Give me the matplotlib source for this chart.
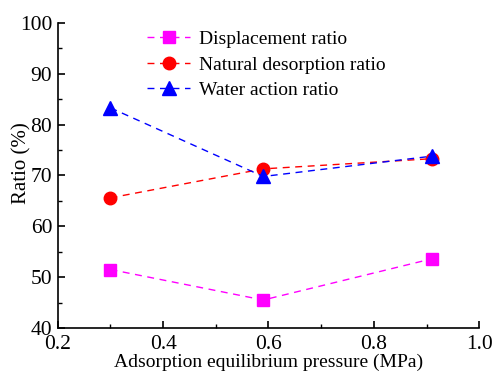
import matplotlib
matplotlib.use("Agg")
import matplotlib.pyplot as plt
from matplotlib.ticker import MultipleLocator, FormatStrFormatter

pressure = [0.30, 0.59, 0.91]
displacement = [51.5, 45.5, 53.6]
natural = [65.6, 71.3, 73.3]
water = [83.3, 69.8, 73.8]

plt.rcParams['font.family'] = ['Liberation Serif', 'DejaVu Serif']

fig = plt.figure(figsize=(4.94, 3.71), dpi=100)
ax = fig.add_axes([0.117, 0.116, 0.853, 0.822])

ax.plot(pressure, displacement, color='#ff00ff', ls=(0, (5, 4)), lw=1, marker='s', ms=8,
        label='Displacement ratio')
ax.plot(pressure, natural, color='#ff0000', ls=(0, (5, 4)), lw=1, marker='o', ms=9,
        label='Natural desorption ratio')
ax.plot(pressure, water, color='#0000ff', ls=(0, (5, 4)), lw=1, marker='^', ms=10,
        label='Water action ratio')

ax.set_xlim(0.2, 1.0)
ax.set_ylim(40, 100)
ax.xaxis.set_major_locator(MultipleLocator(0.2))
ax.xaxis.set_minor_locator(MultipleLocator(0.1))
ax.yaxis.set_major_locator(MultipleLocator(10))
ax.yaxis.set_minor_locator(MultipleLocator(5))
ax.xaxis.set_major_formatter(FormatStrFormatter('%.1f'))

ax.spines['top'].set_visible(False)
ax.spines['right'].set_visible(False)
for s in ('left', 'bottom'):
    ax.spines[s].set_linewidth(1.2)
ax.tick_params(which='major', direction='in', length=5, width=1.2, labelsize=15.5, pad=4)
ax.tick_params(axis='x', which='major', pad=5)
ax.tick_params(which='minor', direction='in', length=3, width=1.0)

ax.set_xlabel('Adsorption equilibrium pressure (MPa)', fontsize=14, labelpad=0)
ax.set_ylabel('Ratio (%)', fontsize=15)
ax.yaxis.set_label_coords(-0.062, 0.54)

ax.legend(loc='upper left', bbox_to_anchor=(0.18, 1.02), frameon=False, fontsize=14,
          handlelength=2.2, handletextpad=0.45, labelspacing=0.4, borderpad=0.2)

fig.savefig('out.png', dpi=100)
